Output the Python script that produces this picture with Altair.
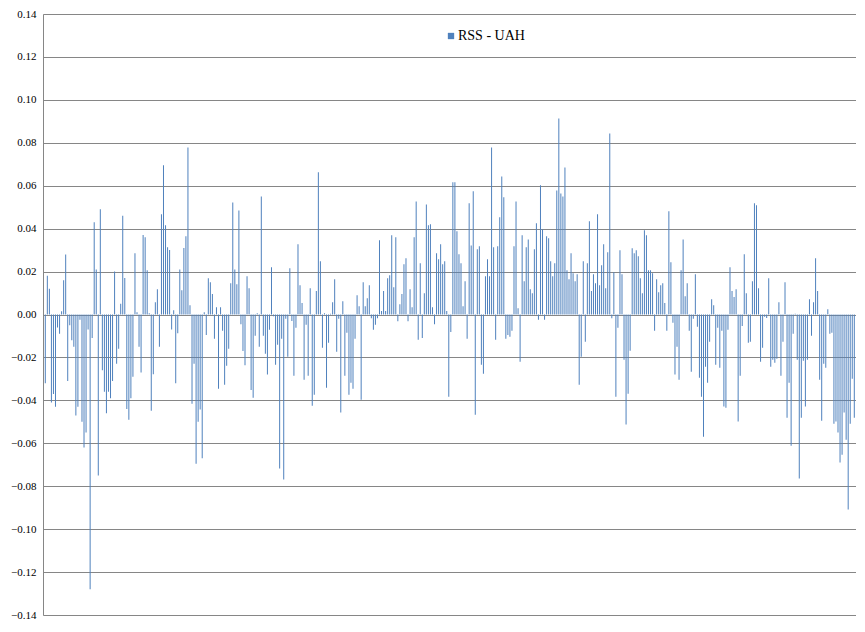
import altair as alt
import pandas as pd

seg1 = [-0.032, 0.018, 0.012, -0.041, -0.037, -0.043, -0.006, -0.009, 0.0015, 0.016, 0.028, -0.031, -0.005, -0.012, -0.015, -0.047, -0.043, -0.0025, -0.050, -0.062, -0.055, -0.007, -0.128, -0.011, 0.043, 0.021, -0.075, 0.049, -0.026, -0.036, -0.046, -0.036]
seg2 = [-0.039, -0.031, 0.020, -0.023, -0.016, 0.005, 0.046, 0.017, -0.044, -0.049, -0.039, -0.029, 0.0285, 0.001, -0.015, -0.027, 0.037, 0.036, 0.0206, 0.0006, -0.0448, -0.0278, 0.0057, 0.0118, -0.015, 0.0467, 0.0695, 0.0416, 0.0313, 0.030, -0.007, 0.002, -0.032, -0.0087]
seg3 = [0.021, 0.0113, 0.031, 0.0364, 0.0778, 0.0043, -0.0416, -0.023, -0.0695, -0.050, -0.0443, -0.067, 0.001, -0.0096, 0.0169, 0.015, 0.0095, -0.0113, 0.0034, -0.0346, 0.0034, -0.0076, -0.0327, -0.0239, -0.016, 0.0146, 0.0522, 0.021, 0.0141, 0.0485, -0.0045, -0.017, -0.0236]
seg4 = [0.0178, 0.0122, -0.0352, -0.0388, -0.0099, 0.0006, -0.015, 0.055, -0.0099, -0.0183, -0.028, -0.0071, 0.022, -0.0008, -0.0234, -0.0141, -0.0718, -0.0113, -0.0769, -0.002, -0.0197, 0.0216, -0.003, -0.0285, -0.0062, 0.0327, 0.0136, 0.0053, -0.0304, -0.0048, -0.0285, 0.0122, -0.0425]
seg5 = [-0.0374, 0.0109, 0.0663, 0.0248, -0.0155, 0.0006, -0.0341, -0.0132, 0.0003, 0.0057, 0.0164, -0.0174, -0.002, -0.0457, 0.0062, -0.0285, -0.0085, -0.0374, -0.0318, -0.0346, -0.0113, 0.009, 0.0039, -0.0397, 0.015, 0.0039, 0.0076, 0.0136, -0.0017, -0.0071, -0.0048, -0.0017, 0.0346, 0.0016]
seg6 = [0.0109, 0.0016, 0.0169, 0.0183, 0.0369, 0.0127, 0.036, -0.0031, 0.0048, 0.0095, 0.0234, 0.0262, -0.0031, 0.0118, 0.0034, 0.036, 0.0527, -0.0118, 0.0239, -0.0109, 0.0099, 0.0513, 0.0416, 0.042, 0.0034, -0.0045, 0.0285, 0.0257, 0.0327, 0.0234, 0.0248, 0.0016, -0.0383]
seg7 = [-0.0081, 0.0616, 0.0616, 0.0388, 0.0281, 0.0239, 0.0039, 0.0155, -0.0113, 0.0518, 0.0322, 0.0574, -0.0467, 0.0304, 0.0318, -0.0234, -0.0276, 0.0178, 0.0257, 0.0178, 0.0778, 0.0313, -0.0118, 0.0318, 0.0453, 0.0643, 0.0546, -0.0113, -0.0095, -0.0104, -0.0076, 0.0318, 0.0527]
seg8 = [0.0029, -0.022, 0.0369, 0.0155, 0.0313, 0.035, 0.0118, 0.0099, 0.0304, 0.0425, -0.0025, 0.0602, 0.0397, -0.0025, 0.0364, 0.0355, 0.0248, 0.0178, 0.0239, 0.0578, 0.0913, 0.0564, 0.055, 0.0685, 0.0206, 0.0164, 0.0285, 0.0192, 0.0155, 0.0188, -0.0327, -0.0197, 0.0248, -0.0127]
seg9 = [0.0239, 0.0434, 0.0109, 0.0188, 0.0146, 0.0467, 0.0136, 0.0229, 0.0327, 0.0122, 0.029, 0.0843, -0.0017, 0.0197, -0.0383, -0.0062, 0.0299, 0.0188, -0.0211, -0.0513, -0.0369, -0.0169, 0.0309, 0.0285, 0.0299, 0.0271, 0.0169, 0.0099, 0.0392, 0.0369, 0.0206, 0.0206, 0.0192]
seg10 = [-0.0076, 0.0164, 0.0104, 0.0136, 0.0146, 0.0053, -0.0076, 0.0481, 0.0243, -0.0039, -0.028, -0.015, -0.0304, 0.0206, 0.035, 0.0085, 0.0146, -0.0076, -0.0267, -0.002, 0.0188, -0.0057, -0.0295, -0.0383, -0.0569, -0.0243, -0.0318, -0.0127, 0.0071, 0.0043, -0.0234, -0.0062, -0.0248]
seg11 = [-0.0076, -0.0429, -0.0434, -0.0071, 0.022, 0.0109, 0.0081, 0.0118, -0.0499, -0.0285, -0.0053, 0.0281, 0.0099, -0.0132, -0.0127, 0.0155, 0.0518, 0.0509, 0.0122, -0.022, -0.0155, -0.0011, -0.0016, 0.0169, -0.0243, -0.0211, -0.0225, -0.0206, 0.0057, -0.0285, -0.0127, 0.015, -0.0481, -0.0318]
seg12 = [-0.0611, -0.009, 0.0003, -0.0211, -0.0764, -0.0481, -0.0216, -0.0429, -0.0211, 0.0071, -0.0099, 0.0057, 0.0262, 0.0109, -0.0304, -0.0495, -0.0229, -0.0248, 0.0025, -0.009, -0.0085, -0.0509, -0.0499, -0.055, -0.069, -0.0653, -0.0457, -0.0583, -0.0909, -0.0509, -0.0299, -0.0481]

series_name = "RSS - UAH"
y_ticks = [round(-0.14 + 0.02 * k, 2) for k in range(15)]

values = seg1 + seg2 + seg3 + seg4 + seg5 + seg6 + seg7 + seg8 + seg9 + seg10 + seg11 + seg12
n = len(values)
df = pd.DataFrame({"i": list(range(n)), "v": values, "series": [series_name] * n})

step = (854.3 - 45.3) / (n - 1)
d0 = -2.3 / step
d1 = d0 + 813 / step

serif = "'Times New Roman', 'Liberation Serif', serif"

chart = alt.Chart(df).mark_bar(size=1).encode(
    x=alt.X("i:Q", axis=None,
            scale=alt.Scale(domain=[d0, d1], nice=False, zero=False, padding=0)),
    y=alt.Y("v:Q", title=None,
            scale=alt.Scale(domain=[-0.14, 0.14], nice=False, padding=0),
            axis=alt.Axis(values=y_ticks, format=".2f", grid=True, gridColor="#868686",
                          gridWidth=1, domain=True, domainColor="#868686", ticks=False,
                          labelFont=serif, labelFontSize=11, labelColor="#000000",
                          labelPadding=7)),
    color=alt.Color("series:N", scale=alt.Scale(range=["#4F81BD"]),
                    legend=alt.Legend(orient="none", legendX=401, legendY=15, title=None,
                                      symbolType="square", symbolSize=40, symbolStrokeWidth=0,
                                      labelOffset=0,
                                      labelFont=serif, labelFontSize=14,
                                      labelColor="#000000", padding=0)),
).properties(
    width=813, height=601,
    autosize=alt.AutoSizeParams(type="none"),
    padding={"left": 35, "top": 6, "right": 0, "bottom": 10},
).configure_view(stroke=None).configure(background="white")

chart.save("out.html", embed_options={"renderer": "svg", "actions": False})
